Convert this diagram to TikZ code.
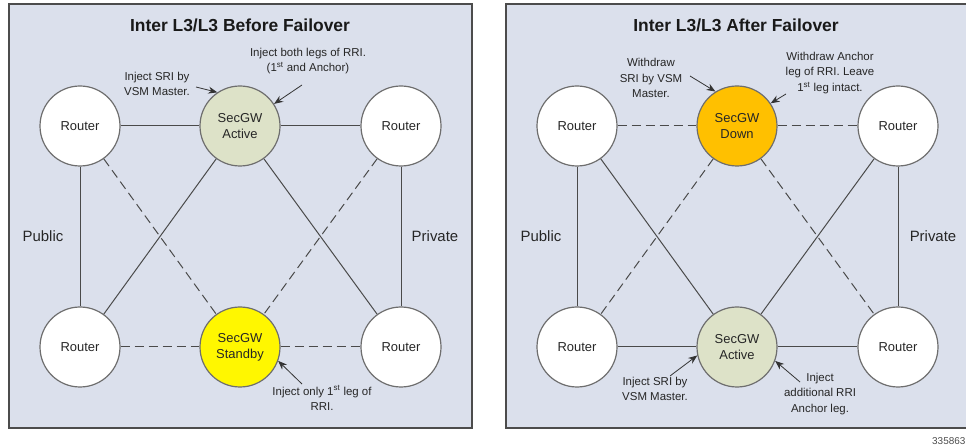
\documentclass[tikz,border=0pt]{standalone}
\usepackage{fontspec}
\setmainfont{Liberation Sans}
\usetikzlibrary{arrows.meta}

\definecolor{panelbg}{HTML}{DBE0EC}
\definecolor{activefill}{HTML}{DDE2C8}
\definecolor{standbyfill}{HTML}{FFF700}
\definecolor{downfill}{HTML}{FFC000}
\definecolor{linegray}{HTML}{4A4A4A}
\definecolor{ringgray}{HTML}{6E6E6E}
\definecolor{textgray}{HTML}{262626}

\tikzset{
  panel/.style={draw=black!70, line width=1.4bp, fill=panelbg},
  unit/.style={circle, draw=ringgray, line width=1.2bp, minimum size=80bp,
    inner sep=0pt, align=center, text=textgray,
    font=\fontsize{13}{16}\selectfont},
  router/.style={unit, fill=white},
  gwactive/.style={unit, fill=activefill},
  gwstandby/.style={unit, fill=standbyfill},
  gwdown/.style={unit, fill=downfill},
  paneltitle/.style={font=\fontsize{17.5}{20}\selectfont\bfseries, text=black!90},
  sidelabel/.style={font=\fontsize{15}{18}\selectfont, text=textgray},
  note/.style={font=\fontsize{11.5}{15.5}\selectfont, align=center, text=textgray, inner sep=0pt},
  link/.style={draw=linegray, line width=1bp},
  backup/.style={link, dash pattern=on 9bp off 5bp},
  pointer/.style={draw=black!80, line width=0.8bp,
    -{Stealth[length=9bp, width=7bp]}},
}

\begin{document}
\begin{tikzpicture}[x=1bp, y=-1bp]
\useasboundingbox (0,0) rectangle (966,447);

% panel frames
\begin{scope}
  \clip (0,0) rectangle (966,447);
  \draw[panel] (9,4) rectangle (472,428);
  \draw[panel] (506,4) rectangle (969,428);
\end{scope}

% ---------------- before failover ----------------
\node[paneltitle] (b-title) at (240,25) {Inter L3/L3 Before Failover};
\node[sidelabel] (b-pub) at (43,236) {Public};
\node[sidelabel] (b-priv) at (435,236) {Private};

\node[router]    (b-tl) at (80,126)  {Router};
\node[gwactive]  (b-gw) at (240,126) {SecGW\\Active};
\node[router]    (b-tr) at (401,126) {Router};
\node[router]    (b-bl) at (80,347)  {Router};
\node[gwstandby] (b-sb) at (240,347) {SecGW\\Standby};
\node[router]    (b-br) at (401,347) {Router};

\draw[link] (b-tl) -- (b-gw);
\draw[link] (b-gw) -- (b-tr);
\draw[link] (b-tl) -- (b-bl);
\draw[link] (b-tr) -- (b-br);
\draw[link] (b-gw) -- (b-bl);
\draw[link] (b-gw) -- (b-br);
\draw[backup] (b-tl) -- (b-sb);
\draw[backup] (b-tr) -- (b-sb);
\draw[backup] (b-bl) -- (b-sb);
\draw[backup] (b-sb) -- (b-br);

\node[note] (b-n1) at (157,84) {Inject SRI by\\VSM Master.};
\node[note] (b-n2) at (308,61) {Inject both legs of RRI.\\(1\textsuperscript{st} and Anchor)};
\node[note] (b-n3) at (322,398) {Inject only 1\textsuperscript{st} leg of\\RRI.};
\coordinate (b-p1) at (196,87);
\coordinate (b-p2) at (302,85);
\coordinate (b-p3) at (302,384);
\draw[pointer] (b-p1) -- (b-gw.124);
\draw[pointer] (b-p2) -- (b-gw.33);
\draw[pointer] (b-p3) -- (b-sb.-20);

% ---------------- after failover ----------------
\node[paneltitle] (a-title) at (736,25) {Inter L3/L3 After Failover};
\node[sidelabel] (a-pub) at (541,236) {Public};
\node[sidelabel] (a-priv) at (933,236) {Private};

\node[router]   (a-tl) at (577,126) {Router};
\node[gwdown]   (a-dn) at (737,126) {SecGW\\Down};
\node[router]   (a-tr) at (898,126) {Router};
\node[router]   (a-bl) at (577,347) {Router};
\node[gwactive] (a-gw) at (737,347) {SecGW\\Active};
\node[router]   (a-br) at (898,347) {Router};

\draw[backup] (a-tl) -- (a-dn);
\draw[backup] (a-dn) -- (a-tr);
\draw[link] (a-tl) -- (a-bl);
\draw[link] (a-tr) -- (a-br);
\draw[link] (a-tl) -- (a-gw);
\draw[link] (a-tr) -- (a-gw);
\draw[backup] (a-dn) -- (a-bl);
\draw[backup] (a-dn) -- (a-br);
\draw[link] (a-bl) -- (a-gw);
\draw[link] (a-gw) -- (a-br);

\node[note] (a-n1) at (651,78) {Withdraw\\SRI by VSM\\Master.};
\node[note] (a-n2) at (830,73) {Withdraw Anchor\\leg of RRI. Leave\\1\textsuperscript{st} leg intact.};
\node[note] (a-n3) at (655,389) {Inject SRI by\\VSM Master.};
\node[note] (a-n4) at (820,394) {Inject\\additional RRI\\Anchor leg.};
\coordinate (a-p1) at (690,76);
\coordinate (a-p2) at (786,94);
\coordinate (a-p3) at (670,376);
\coordinate (a-p4) at (800,382);
\draw[pointer] (a-p1) -- (a-dn.122);
\draw[pointer] (a-p2) -- (a-dn.34);
\draw[pointer] (a-p3) -- (a-gw.192);
\draw[pointer] (a-p4) -- (a-gw.-20);

% figure number
\node[font=\fontsize{10}{11}\selectfont, text=black!70, anchor=west, inner sep=0pt] (fig-id) at (932,441) {335863};
\end{tikzpicture}
\end{document}
